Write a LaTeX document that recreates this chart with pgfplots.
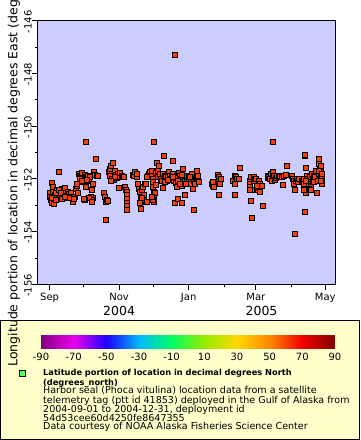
\documentclass[border=0pt]{standalone}
\usepackage{pgfplots}
\pgfplotsset{compat=1.18}
\usepackage{fontspec}
\setmainfont{DejaVu Sans}
\definecolor{seal}{RGB}{248,62,12}
\definecolor{plotbg}{RGB}{204,204,255}
\definecolor{legbg}{RGB}{255,255,204}
\definecolor{leggreen}{RGB}{85,255,85}
\newcommand{\tickfont}{\fontsize{10}{12}\selectfont}
\newcommand{\bigfont}{\fontsize{12.5}{14}\selectfont}
\newcommand{\legfont}{\fontsize{9.55}{9}\selectfont}
\newcommand{\legbold}{\fontsize{8.25}{9}\selectfont\bfseries}
\begin{document}
\begin{tikzpicture}
\useasboundingbox (0,0) rectangle (360pt,440pt);
\fill[white] (0,0) rectangle (360pt,440pt);
% legend box
\draw[fill=legbg, line width=0.8pt] (0.4pt,0.4pt) rectangle (359.6pt,120pt);
\begin{axis}[
  at={(37.7pt,155.7pt)}, anchor=south west,
  scale only axis, width=297.3pt, height=263.6pt,
  xmin=-10.5, xmax=250.5, ymin=-156, ymax=-146,
  clip=false,
  axis background/.style={fill=plotbg},
  axis line style={line width=0.8pt},
  tick align=outside, xtick pos=bottom, ytick pos=left,
  major tick length=6pt, minor tick length=3pt,
  tick style={black, line width=0.8pt},
  xtick={0,61,122,181,242},
  xticklabels={Sep,Nov,Jan,Mar,May},
  minor xtick={30,91,153,212},
  ytick={-156,-154,-152,-150,-148,-146},
  yticklabels={-156,-154,-152,-150,-148,-146},
  minor ytick={-155,-153,-151,-149,-147},
  xticklabel style={font=\tickfont, anchor=north, inner sep=0pt, yshift=-3pt},
  yticklabel style={font=\tickfont, rotate=90, anchor=base, inner sep=0pt, xshift=-1pt},
]
\addplot[only marks, mark=square*, mark size=2.5pt,
  mark options={draw=black, fill=seal, line width=0.8pt}] coordinates {
(1.8,-152.16) (7.9,-151.75) (0.3,-152.55) (0.3,-152.67) (0.9,-152.80) (1.8,-152.92)
(4.1,-152.96) (2.6,-152.31) (3.2,-152.49) (4.7,-152.61) (6.1,-152.74) (6.7,-152.43)
(7.6,-152.55) (9.1,-152.67) (10.5,-152.37) (11.4,-152.49) (12.0,-152.61) (12.6,-152.74)
(13.5,-152.33) (14.3,-152.53) (14.9,-152.65) (16.4,-152.49) (17.3,-152.58) (18.4,-152.55)
(19.3,-152.67) (20.2,-152.80) (20.8,-152.86) (22.2,-152.67) (23.1,-152.37) (24.3,-152.25)
(24.6,-152.53) (23.7,-152.18) (3.8,-152.67) (5.6,-152.53) (8.5,-152.40) (10.0,-152.53)
(2.3,-152.74) (5.3,-152.80) (10.8,-152.77) (13.8,-152.67) (17.9,-152.74) (21.4,-152.77)
(25.8,-151.82) (26.6,-151.88) (27.2,-151.94) (28.1,-151.79) (29.0,-152.00) (29.6,-152.12)
(31.0,-151.84) (31.9,-151.94) (33.1,-151.91) (34.0,-151.88) (34.8,-152.06) (35.4,-151.94)
(36.9,-152.40) (37.8,-152.18) (38.3,-152.74) (36.3,-152.67) (36.9,-152.80) (34.8,-152.74)
(38.9,-151.75) (39.5,-151.85) (40.4,-151.23) (41.3,-151.89) (42.2,-151.90) (31.3,-152.80)
(31.9,-152.31) (26.6,-152.00) (28.1,-152.06) (33.1,-152.04) (37.2,-152.86) (30.4,-152.77)
(48.0,-152.55) (48.6,-152.67) (49.5,-152.86) (50.1,-152.80) (51.5,-152.82) (49.2,-153.56)
(52.4,-151.72) (53.0,-151.63) (53.9,-151.51) (54.4,-151.82) (55.3,-151.39) (55.9,-151.94)
(56.5,-152.04) (57.1,-151.69) (58.0,-151.84) (58.8,-151.96) (59.7,-151.82) (60.3,-151.91)
(61.2,-152.34) (61.8,-151.79) (63.2,-151.88) (64.7,-151.94) (65.3,-151.94) (66.2,-152.31)
(67.0,-152.40) (67.6,-152.49) (67.9,-152.61) (67.6,-152.77) (67.9,-152.92) (67.9,-153.04)
(67.9,-153.17) (53.0,-151.88) (54.4,-152.00) (57.4,-151.91) (53.6,-152.06)
(72.9,-151.84) (74.1,-151.88) (74.9,-151.75) (76.4,-151.91) (77.0,-151.82) (77.9,-152.18)
(78.7,-152.37) (79.3,-152.49) (79.9,-152.67) (79.9,-152.86) (80.2,-153.13) (80.8,-152.43)
(81.7,-152.31) (82.3,-152.61) (82.8,-152.80) (83.7,-152.18) (84.6,-152.21) (85.2,-152.86)
(86.1,-151.88) (86.7,-151.82) (87.5,-151.91) (88.1,-151.75) (88.7,-151.88) (89.6,-151.69)
(90.5,-152.00) (91.0,-152.31) (91.6,-152.49) (91.6,-152.67) (91.6,-152.86) (91.0,-152.12)
(92.5,-152.55) (93.1,-152.22) (93.4,-151.79) (94.0,-151.39) (94.6,-151.69) (95.4,-151.94)
(79.3,-152.92) (80.8,-152.74) (90.5,-152.80) (89.6,-152.67) (85.2,-151.94)
(96.3,-151.51) (96.9,-151.82) (97.8,-152.00) (98.4,-152.09) (99.2,-151.82) (99.8,-152.33)
(100.7,-151.14) (101.3,-151.88) (102.2,-151.94) (102.8,-152.06) (103.6,-151.82) (104.2,-151.88)
(105.1,-151.75) (105.7,-151.88) (106.3,-152.00) (107.1,-151.94) (108.0,-151.82) (108.6,-151.30)
(109.2,-152.06) (110.1,-152.90) (110.7,-152.16) (111.5,-152.31) (112.1,-151.88) (113.0,-152.77)
(113.6,-151.79) (114.5,-151.88) (115.0,-152.00) (115.9,-152.25) (116.5,-152.90) (116.8,-151.64)
(117.4,-151.91) (118.3,-152.02) (118.9,-152.61) (119.4,-151.88) (120.3,-152.12) (120.9,-152.18)
(121.8,-151.94) (122.4,-152.06) (123.3,-152.18) (123.8,-152.00) (124.7,-151.82) (125.6,-152.37)
(126.2,-153.17) (127.0,-152.06) (127.6,-152.18) (128.5,-151.96) (129.1,-151.94) (129.7,-151.69)
(130.0,-151.88) (130.6,-152.12) (101.3,-152.12) (104.2,-152.04) (108.6,-151.94) (113.0,-152.06)
(115.9,-151.84) (119.7,-152.18) (114.5,-152.18) (123.3,-151.91)
(142.3,-152.18) (143.1,-152.25) (143.7,-152.12) (144.3,-152.31) (148.1,-151.84) (148.7,-151.94)
(149.0,-152.06) (149.6,-152.18) (150.2,-152.00) (149.0,-152.59) (161.3,-152.06) (162.2,-151.88)
(162.8,-152.18) (163.3,-151.94) (164.2,-152.00) (162.8,-152.61) (165.7,-152.00) (166.6,-151.60)
(175.4,-152.06) (176.0,-152.18) (176.0,-152.31) (176.6,-151.94) (176.9,-152.82) (177.6,-152.40)
(177.7,-153.48) (178.9,-152.06) (179.7,-151.94) (180.3,-152.00) (181.2,-152.00) (182.4,-152.43)
(183.3,-152.12) (183.5,-152.31) (184.1,-152.06) (184.7,-152.18) (186.2,-152.25) (187.6,-153.02)
(184.7,-152.49) (176.0,-152.40) (181.8,-152.25)
(191.4,-151.88) (192.0,-151.96) (192.9,-151.91) (193.5,-152.00) (194.1,-151.82) (195.0,-152.06)
(195.8,-151.84) (196.4,-151.72) (197.0,-151.88) (197.9,-152.04) (198.8,-151.96) (199.9,-151.88)
(201.1,-151.91) (202.3,-151.89) (203.7,-151.94) (204.6,-152.22) (205.8,-151.88) (207.5,-151.84)
(208.1,-151.51)
(212.5,-151.88) (213.4,-152.00) (214.0,-152.09) (214.6,-152.18) (215.5,-152.40) (215.2,-154.09)
(216.0,-152.06) (216.9,-152.02) (217.5,-152.12) (218.4,-152.00) (221.3,-152.06) (222.2,-152.12)
(222.8,-152.00) (223.4,-152.18) (223.7,-153.26) (224.2,-151.14) (224.5,-151.08) (225.1,-151.57)
(225.1,-152.55) (225.7,-151.88) (226.3,-152.00) (227.2,-152.18) (228.0,-152.25) (228.6,-151.94)
(229.2,-152.31) (230.1,-151.82) (231.0,-152.04) (231.6,-151.88) (232.1,-152.12) (233.0,-151.94)
(233.9,-151.69) (234.5,-152.53) (235.1,-152.06) (236.0,-151.82) (236.5,-151.26) (236.8,-151.45)
(237.4,-151.63) (238.0,-151.75) (238.3,-151.88) (238.9,-152.00) (238.9,-152.18) (238.3,-151.51)
(223.4,-152.43) (225.1,-152.09) (227.2,-152.37) (228.6,-152.43) (229.5,-152.40) (238.0,-152.06)
(236.8,-151.69) (238.9,-151.82)
(109.8,-147.29) (31.6,-150.58) (91.3,-150.58) (195.8,-150.58)
};
\node[font=\bigfont, anchor=base, yshift=-31pt] at (axis cs:61,-156) {2004};
\node[font=\bigfont, anchor=base, yshift=-31pt] at (axis cs:186,-156) {2005};
\end{axis}
% colorbar
\begin{axis}[
  at={(41pt,91pt)}, anchor=south west,
  scale only axis, width=294pt, height=14.3pt,
  view={0}{90},
  xmin=-90, xmax=90, ymin=0, ymax=1,
  axis line style={draw=none},
  major tick length=0pt,
  ytick=\empty, ztick=\empty,
  xtick={-90,-70,-50,-30,-10,10,30,50,70,90},
  xticklabels={-90,-70,-50,-30,-10,10,30,50,70,90},
  xticklabel style={font=\tickfont, anchor=north, inner sep=0pt, yshift=-4pt},
  colormap={erd}{rgb255=(128,0,128) rgb255=(235,0,235) rgb255=(30,0,255) rgb255=(0,185,255) rgb255=(0,255,100) rgb255=(150,235,0) rgb255=(255,215,0) rgb255=(255,135,0) rgb255=(240,0,0) rgb255=(128,0,0)},
]
\addplot3[surf, shader=interp, point meta=x, mesh/rows=2] coordinates {
(-90,0,0) (-80,0,0) (-70,0,0) (-60,0,0) (-50,0,0) (-40,0,0) (-30,0,0) (-20,0,0) (-10,0,0) (0,0,0)
(10,0,0) (20,0,0) (30,0,0) (40,0,0) (50,0,0) (60,0,0) (70,0,0) (80,0,0) (90,0,0)

(-90,1,0) (-80,1,0) (-70,1,0) (-60,1,0) (-50,1,0) (-40,1,0) (-30,1,0) (-20,1,0) (-10,1,0) (0,1,0)
(10,1,0) (20,1,0) (30,1,0) (40,1,0) (50,1,0) (60,1,0) (70,1,0) (80,1,0) (90,1,0)
};
\end{axis}
% legend symbol and text
\draw[fill=leggreen, line width=0.8pt] (19.3pt,64pt) rectangle (25pt,69.7pt);
\node[anchor=base west, inner sep=0pt, font=\legbold] at (43pt,64pt) {Latitude portion of location in decimal degrees North};
\node[anchor=base west, inner sep=0pt, font=\legbold] at (43pt,55pt) {(degrees\_north)};
\node[anchor=base west, inner sep=0pt, font=\legfont] at (43pt,46pt) {Harbor seal (Phoca vitulina) location data from a satellite};
\node[anchor=base west, inner sep=0pt, font=\legfont] at (43pt,36.7pt) {telemetry tag (ptt id 41853) deployed in the Gulf of Alaska from};
\node[anchor=base west, inner sep=0pt, font=\legfont] at (43pt,27.7pt) {2004-09-01 to 2004-12-31, deployment id};
\node[anchor=base west, inner sep=0pt, font=\legfont] at (43pt,19pt) {54d53cee60d4250fe8647355};
\node[anchor=base west, inner sep=0pt, font=\legfont] at (43pt,10pt) {Data courtesy of NOAA Alaska Fisheries Science Center};
% y label
\node[anchor=base west, inner sep=0pt, rotate=90, font=\bigfont] at (17.3pt,73.3pt) {Longitude portion of location in decimal degrees East (degrees\_east)};
\end{tikzpicture}
\end{document}
